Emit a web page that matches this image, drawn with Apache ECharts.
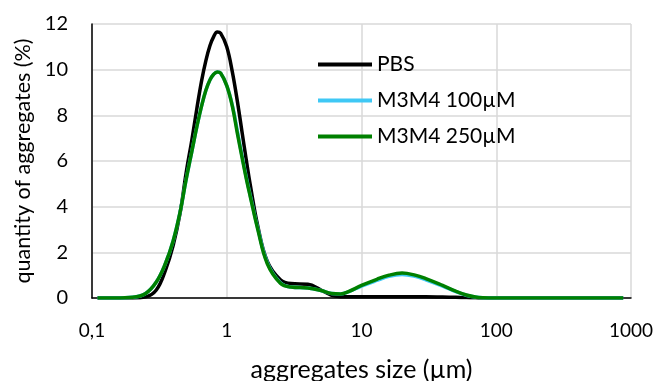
<!DOCTYPE html>
<html>
<head>
<meta charset="utf-8" />
<title></title>
<script type="text/javascript" src="https://cdn.jsdelivr.net/npm/echarts@6/dist/echarts.min.js"></script>
<style>
html, body { margin: 0; padding: 0; background: #fff; }
</style>
</head>
<body>
	<div id="chartmain" style="width: 659px; height: 381px;"></div>
	<script type="text/javascript">
		// particle sizes (um), log spaced bins
		var sizes = [0.11, 0.15, 0.2, 0.25, 0.3, 0.35, 0.4, 0.45, 0.5, 0.55, 0.6, 0.65, 0.7, 0.75, 0.8, 0.85, 0.9, 1.0, 1.1, 1.2, 1.3, 1.4, 1.5, 1.7, 2.0, 2.5, 3, 4, 5, 6, 7, 8, 10, 13, 16, 20, 25, 30, 40, 50, 60, 70, 80, 100, 200, 500, 875];
		var pbs = [0, 0, 0, 0.05, 0.35, 1.2, 2.3, 3.7, 5.5, 6.9, 8.3, 9.5, 10.4, 11.05, 11.45, 11.65, 11.6, 11.0, 9.9, 8.6, 7.25, 6.0, 4.9, 3.15, 1.6, 0.8, 0.63, 0.6, 0.35, 0.12, 0.06, 0.05, 0.05, 0.05, 0.05, 0.05, 0.05, 0.05, 0.04, 0.03, 0.02, 0.01, 0, 0, 0, 0, 0];
		var m100 = [0, 0, 0.03, 0.2, 0.7, 1.5, 2.5, 3.75, 5.2, 6.4, 7.5, 8.4, 9.1, 9.55, 9.8, 9.9, 9.85, 9.3, 8.45, 7.3, 6.2, 5.25, 4.45, 3.05, 1.55, 0.67, 0.48, 0.44, 0.33, 0.2, 0.18, 0.27, 0.52, 0.77, 0.95, 1.03, 0.95, 0.8, 0.52, 0.28, 0.12, 0.04, 0.01, 0, 0, 0, 0];
		var m250 = [0, 0, 0.03, 0.2, 0.7, 1.5, 2.5, 3.75, 5.2, 6.4, 7.5, 8.4, 9.1, 9.55, 9.8, 9.9, 9.85, 9.3, 8.4, 7.2, 6.15, 5.2, 4.4, 3.0, 1.5, 0.65, 0.48, 0.44, 0.33, 0.2, 0.18, 0.28, 0.55, 0.82, 1.0, 1.09, 1.0, 0.85, 0.55, 0.3, 0.13, 0.04, 0.01, 0, 0, 0, 0];
		var seriesNames = ['PBS', 'M3M4 100µM', 'M3M4 250µM'];
		var seriesColors = ['#000000', '#3fc8f5', '#008000'];

		function pairs(ys) {
			return sizes.map(function (x, i) { return [x, ys[i]]; });
		}

		var font = 'Lato, "Open Sans", sans-serif';

		var option = {
			animation : false,
			textStyle : { fontFamily : font },
			grid : {
				left : 92,
				right : 28,
				top : 24,
				bottom : 83,
				containLabel : false,
				outerBoundsMode : 'none'
			},
			legend : {
				orient : 'vertical',
				left : 313,
				top : 49,
				itemWidth : 54,
				itemHeight : 4,
				itemGap : 15,
				icon : 'rect',
				textStyle : { fontSize : 21, color : '#000', fontFamily : font },
				data : seriesNames
			},
			xAxis : {
				type : 'log',
				logBase : 10,
				min : 0.1,
				max : 1000,
				name : 'aggregates size (µm)',
				nameLocation : 'middle',
				nameGap : 59,
				nameTextStyle : { fontSize : 25, color : '#000' },
				axisLine : { show : true, lineStyle : { color : '#000', width : 1.5 } },
				axisTick : { show : false },
				axisLabel : {
					fontSize : 19,
					color : '#000',
					margin : 23,
					formatter : function (v) {
						return String(v).replace('.', ',');
					}
				},
				splitLine : { show : true, lineStyle : { color : '#d9d9d9', width : 1.5 } }
			},
			yAxis : {
				type : 'value',
				min : 0,
				max : 12,
				interval : 2,
				name : 'quantity of aggregates (%)',
				nameLocation : 'middle',
				nameGap : 53,
				nameTextStyle : { fontSize : 21.5, color : '#000' },
				axisLine : { show : true, lineStyle : { color : '#000', width : 1.5 } },
				axisTick : { show : false },
				axisLabel : { fontSize : 20, color : '#000', margin : 24 },
				splitLine : { show : true, lineStyle : { color : '#d9d9d9', width : 1.5 } }
			},
			series : [ pbs, m100, m250 ].map(function (ys, i) {
				return {
					name : seriesNames[i],
					type : 'line',
					smooth : 0.4,
					showSymbol : false,
					symbol : 'none',
					color : seriesColors[i],
					lineStyle : { width : 3.5, color : seriesColors[i] },
					data : pairs(ys)
				};
			})
		};

		var myChart = echarts.init(document.getElementById('chartmain'));
		myChart.setOption(option);
	</script>
</body>
</html>
